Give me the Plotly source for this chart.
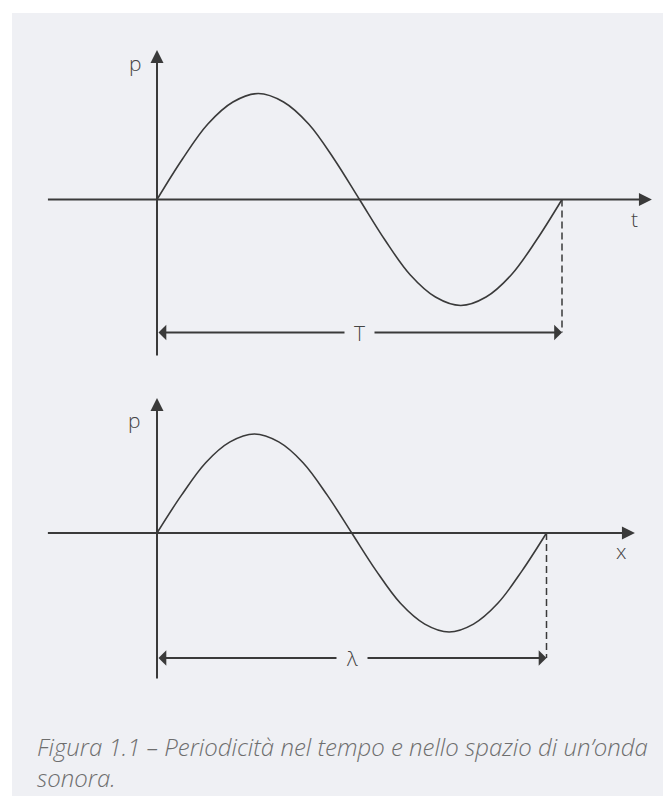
import plotly.graph_objects as go

# one period of the wave:
# position along the period (fraction of T or λ) and pressure (fraction of peak)
phase = [0, 0.0625, 0.125, 0.1875, 0.25, 0.3125, 0.375, 0.4375, 0.5,
         0.5625, 0.625, 0.6875, 0.75, 0.8125, 0.875, 0.9375, 1.0]
pressure = [0, 0.38, 0.71, 0.92, 1.0, 0.92, 0.71, 0.38, 0,
            -0.38, -0.71, -0.92, -1.0, -0.92, -0.71, -0.38, 0]

axis_names = ["t", "x"]
period_names = ["T", "λ"]
p_name = "p"
caption_lines = ["Figura 1.1 – Periodicità nel tempo e nello spazio di un’onda",
                 "sonora."]

W, H = 671, 796
BG = "#eff0f4"
INK = "#3a3a3a"
LABEL_FONT = dict(family="Open Sans", size=21, color="#444444", weight=300)

# pixel geometry of the two panels (origin, px per unit, vertical band)
panels = [
    dict(ox=149, sx=405, oy=191.5, sy=106, top=0, bottom=360,
         xlo=-0.273, xhi=1.222, ylo=-1.486, yhi=1.41, dim=-1.255,
         plab=(-0.054, 1.288), alab=(1.178, -0.184)),
    dict(ox=149, sx=389.5, oy=525, sy=99, top=360, bottom=796,
         xlo=-0.284, xhi=1.227, ylo=-1.485, yhi=1.364, dim=-1.263,
         plab=(-0.0565, 1.141), alab=(1.191, -0.182)),
]

fig = go.Figure()
annotations = []

for i, pn in enumerate(panels):
    n = "" if i == 0 else str(i + 1)
    xa, ya = "x" + n, "y" + n

    fig.update_layout({
        "xaxis" + n: dict(domain=[0, 1], range=[(0 - pn["ox"]) / pn["sx"], (W - pn["ox"]) / pn["sx"]],
                          visible=False, fixedrange=True),
        "yaxis" + n: dict(domain=[1 - pn["bottom"] / H, 1 - pn["top"] / H],
                          range=[(pn["oy"] - pn["bottom"]) / pn["sy"], (pn["oy"] - pn["top"]) / pn["sy"]],
                          visible=False, fixedrange=True),
    })

    # the wave
    fig.add_trace(go.Scatter(x=phase, y=pressure, mode="lines", xaxis=xa, yaxis=ya,
                             line=dict(color=INK, width=1.6, shape="spline", smoothing=1.0),
                             hoverinfo="skip", showlegend=False))
    # dashed drop from end of period to the dimension line
    fig.add_trace(go.Scatter(x=[phase[-1], phase[-1]], y=[pressure[-1], pn["dim"]], mode="lines",
                             xaxis=xa, yaxis=ya, line=dict(color=INK, width=1.5, dash="7px,4px"),
                             hoverinfo="skip", showlegend=False))

    common = dict(xref=xa, yref=ya, axref=xa, ayref=ya, text="", showarrow=True,
                  arrowcolor=INK, arrowwidth=2, font=dict(size=1))
    # horizontal axis
    annotations.append(dict(common, x=pn["xhi"], y=0, ax=pn["xlo"], ay=0,
                            arrowhead=2, arrowsize=1.3))
    # vertical axis
    annotations.append(dict(common, x=0, y=pn["yhi"], ax=0, ay=pn["ylo"],
                            arrowhead=2, arrowsize=1.3))
    # period dimension line
    annotations.append(dict(common, x=phase[-1], y=pn["dim"], ax=phase[0], ay=pn["dim"],
                            arrowside="end+start", arrowhead=1, startarrowhead=1,
                            arrowsize=1.3, startarrowsize=1.3))
    annotations.append(dict(xref=xa, yref=ya, x=(phase[0] + phase[-1]) / 2, y=pn["dim"],
                            text=period_names[i], showarrow=False, bgcolor=BG, borderpad=9,
                            font=LABEL_FONT))
    annotations.append(dict(xref=xa, yref=ya, x=pn["plab"][0], y=pn["plab"][1], text=p_name,
                            showarrow=False, font=LABEL_FONT))
    annotations.append(dict(xref=xa, yref=ya, x=pn["alab"][0], y=pn["alab"][1], text=axis_names[i],
                            showarrow=False, font=LABEL_FONT))

# caption
annotations.append(dict(xref="paper", yref="paper", x=27 / W, y=1 - 754 / H,
                        xanchor="left", yanchor="middle", align="left",
                        text="<i>" + "<br>".join(caption_lines) + "</i>",
                        showarrow=False,
                        font=dict(family="Open Sans", size=24, color="#6e6e6e", weight=300)))

fig.update_layout(
    width=W, height=H,
    margin=dict(l=0, r=0, t=0, b=0),
    paper_bgcolor="white",
    plot_bgcolor="rgba(0,0,0,0)",
    annotations=annotations,
    shapes=[dict(type="rect", xref="paper", yref="paper", x0=4 / W, x1=1, y0=0, y1=1 - 5 / H,
                 fillcolor=BG, line=dict(width=0), layer="below")],
)

fig.write_html("out.html")
